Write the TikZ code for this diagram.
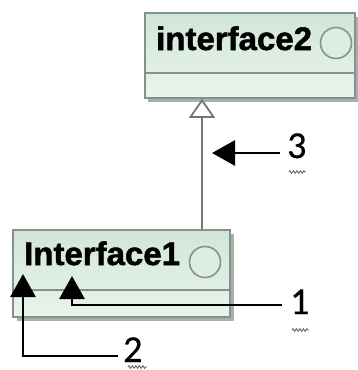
\documentclass[tikz,border=0pt]{standalone}
\usepackage{fontspec}
\setmainfont{Liberation Sans}
\newfontfamily\heavyfont[BoldFeatures={FakeBold=1.6,FakeStretch=1.015}]{Liberation Sans}
\newfontfamily\labfont[FakeBold=0.6]{Carlito}
\usetikzlibrary{arrows.meta,decorations.pathmorphing}
\definecolor{boxtop}{HTML}{D0E6D7}
\definecolor{boxbot}{HTML}{EAF4ED}
\definecolor{boxline}{HTML}{86918B}
\definecolor{shadowc}{HTML}{A9B0AC}
\definecolor{conn}{HTML}{767676}
\tikzset{
  ifbox/.style={rectangle, draw=boxline, line width=1.6pt, top color=boxtop, bottom color=boxbot, inner sep=0pt},
  shadowbox/.style={rectangle, fill=shadowc, inner sep=0pt},
  iftext/.style={font=\heavyfont\bfseries\fontsize{32.5}{32.5}\selectfont, inner sep=0pt, anchor=base west},
  lollipop/.style={circle, draw=boxline, line width=1.6pt, fill=boxtop!70!white, minimum size=31pt, inner sep=0pt},
  pointer/.style={line width=2.8pt, -{Triangle[length=23pt,width=25pt]}},
  numlab/.style={font=\labfont\fontsize{38}{38}\selectfont, inner sep=0pt, anchor=base west},
  squig/.style={draw=gray!80!black, line width=0.9pt}
}
\begin{document}
\begin{tikzpicture}[x=1pt,y=-1pt]
\useasboundingbox (0,0) rectangle (358,370);
\fill[white] (0,0) rectangle (358,370);
% top box
\node[shadowbox, minimum width=210pt, minimum height=85pt] at (253,59.5) {};
\node[ifbox, minimum width=210pt, minimum height=85pt] (if2) at (250,55.5) {};
\draw[boxline, line width=1.4pt] (if2.west |- 0,73) -- (if2.east |- 0,73);
\node[iftext] (t2) at (156,50) {interface2};
\node[lollipop] (c2) at (336,43) {};
% bottom box
\node[shadowbox, minimum width=217pt, minimum height=87pt] at (125,277.5) {};
\node[ifbox, minimum width=217pt, minimum height=87pt] (if1) at (121.5,273.5) {};
\draw[boxline, line width=1.4pt] (if1.west |- 0,290) -- (if1.east |- 0,290);
\node[iftext] (t1) at (24,265) {Interface1};
\node[lollipop] (c1) at (205,262) {};
% inheritance
\coordinate (g1) at (if1.north -| 202,0);
\coordinate (g2) at (if2.south -| 202,0);
\draw[conn, line width=2.2pt, -{Triangle[open, length=19pt, width=26pt, line width=1.8pt]}] (g1) -- (g2);
% labels
\node[numlab] (n3) at (287,158) {3};
\node[numlab] (n1) at (290,314) {1};
\node[numlab] (n2) at (123,362) {2};
% pointers
\coordinate (p3) at (212,153);
\draw[pointer] (n3.west |- 0,153) ++(-7,0) coordinate (s3) -- (p3);
\coordinate (p1) at (72,276);
\draw[pointer] (n1.west |- 0,305) ++(-8,0) -- (72,305) -- (p1);
\coordinate (p2) at (23,274);
\draw[pointer] (n2.west |- 0,356) ++(-5,0) -- (23,356) -- (p2);
% squiggles
\draw[squig, decorate, decoration={zigzag, amplitude=1.3pt, segment length=3.5pt}] (289,172) -- (306,172);
\draw[squig, decorate, decoration={zigzag, amplitude=1.3pt, segment length=3.5pt}] (292,330) -- (309,330);
\draw[squig, decorate, decoration={zigzag, amplitude=1.3pt, segment length=3.5pt}] (128,367) -- (147,367);
\end{tikzpicture}
\end{document}
